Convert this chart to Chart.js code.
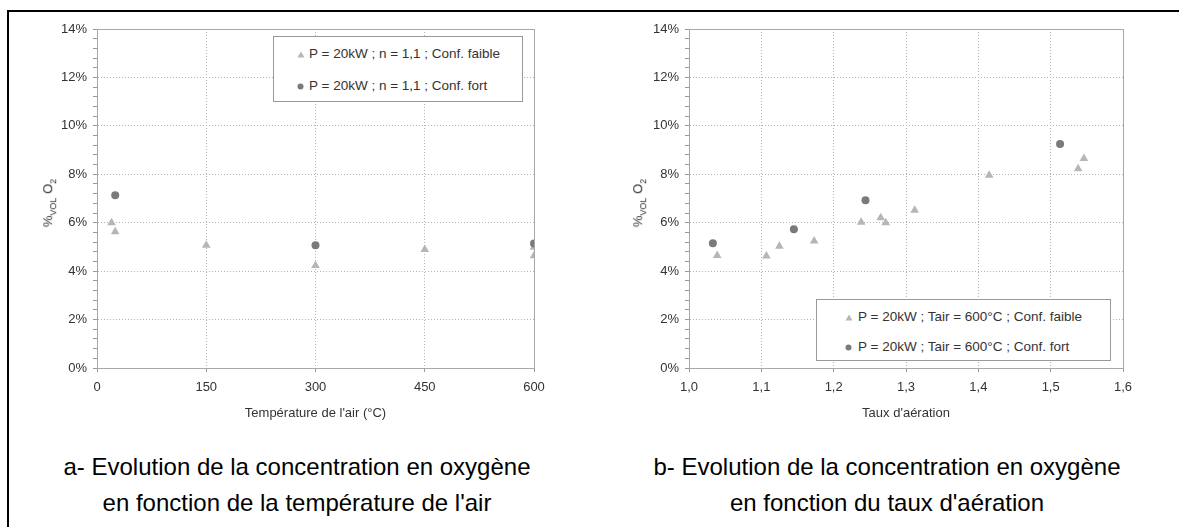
<!DOCTYPE html>
<html>
<head>
<meta charset="utf-8">
<script src="https://cdn.jsdelivr.net/npm/chart.js@4.4.0/dist/chart.umd.min.js"></script>
<style>
  body { margin: 0; background: #fff; font-family: "Liberation Sans", Arial, sans-serif; }
  #page { position: relative; width: 1179px; height: 527px; overflow: hidden; }
  .frame { position: absolute; left: 7px; top: 10px; width: 1300px; height: 600px; border-top: 2px solid #000; border-left: 2px solid #000; }
  canvas { position: absolute; }
  .ytitle { position: absolute; font-size: 13px; color: #333; white-space: nowrap; transform: translate(-50%, -50%) rotate(-90deg); }
  .ytitle sub { font-size: 9px; }
  .legend { position: absolute; background: #fff; border: 1px solid #999; box-sizing: border-box; }
  .legend .row { position: absolute; font-size: 13.5px; color: #333; white-space: nowrap; line-height: 16px; }
  .legend svg { position: absolute; }
  .caption { position: absolute; width: 560px; text-align: center; font-size: 24px; line-height: 36px; color: #000; }
</style>
</head>
<body>
<div id="page">
  <div class="frame"></div>
  <canvas id="chartTemp" width="520" height="408" style="left:40px;top:15px"></canvas>
  <canvas id="chartAir" width="520" height="408" style="left:630px;top:15px"></canvas>
  <div class="ytitle" style="left:49px;top:203px">%<sub>VOL</sub> O<sub>2</sub></div>
  <div class="ytitle" style="left:639px;top:203px">%<sub>VOL</sub> O<sub>2</sub></div>
  <div id="legendTemp" class="legend" style="left:273px;top:36px;width:250px;height:66px"></div>
  <div id="legendAir" class="legend" style="left:816px;top:299px;width:295px;height:62px"></div>
  <div class="caption" style="left:17px;top:449px">a- Evolution de la concentration en oxygène<br>en fonction de la température de l'air</div>
  <div class="caption" style="left:607px;top:449px">b- Evolution de la concentration en oxygène<br>en fonction du taux d'aération</div>
</div>
<script>
// chart a: temperature de l'air
const tempFaibleX = [20, 25, 150, 300, 450, 600, 600];
const tempFaibleY = [6.0, 5.63, 5.07, 4.23, 4.89, 4.99, 4.64];
const tempFortX = [25, 300, 600];
const tempFortY = [7.13, 5.07, 5.14];

// chart b: taux d'aeration
const airFaibleX = [1.039, 1.107, 1.125, 1.173, 1.238, 1.265, 1.272, 1.312, 1.415, 1.538, 1.546];
const airFaibleY = [4.65, 4.63, 5.03, 5.25, 6.02, 6.21, 6.0, 6.51, 7.96, 8.23, 8.65];
const airFortX = [1.033, 1.145, 1.244, 1.513];
const airFortY = [5.15, 5.73, 6.93, 9.25];

const labelsTemp = ['P = 20kW ; n = 1,1 ; Conf. faible', 'P = 20kW ; n = 1,1 ; Conf. fort'];
const labelsAir = ['P = 20kW ; Tair = 600°C ; Conf. faible', 'P = 20kW ; Tair = 600°C ; Conf. fort'];

const faibleColor = '#b6b6b6';
const fortColor = '#7a7a7a';
const textColor = '#333';
const fontFamily = '"Liberation Sans", Arial, sans-serif';

function toPoints(xs, ys) {
    return xs.map((x, i) => ({ x: x, y: ys[i] }));
}

function isMajor(v) {
    return Math.abs(v / 2 - Math.round(v / 2)) < 1e-6;
}

// solid frame round the plot area
const plotFrame = {
    id: 'plotFrame',
    afterDraw(chart) {
        const a = chart.chartArea;
        const ctx = chart.ctx;
        ctx.save();
        ctx.strokeStyle = '#a8a8a8';
        ctx.lineWidth = 1;
        ctx.strokeRect(Math.round(a.left) + 0.5, Math.round(a.top) + 0.5, Math.round(a.right - a.left), Math.round(a.bottom - a.top));
        ctx.restore();
    }
};

function makeChart(id, faible, fort, labels, xOpts, yWidth, padRight) {
    const ctx = document.getElementById(id).getContext('2d');
    return new Chart(ctx, {
        type: 'scatter',
        data: {
            datasets: [
                { label: labels[0], data: faible, pointStyle: 'triangle', pointRadius: 5, backgroundColor: faibleColor, borderWidth: 0, order: 2 },
                { label: labels[1], data: fort, pointStyle: 'circle', pointRadius: 4, backgroundColor: fortColor, borderWidth: 0, order: 1 }
            ]
        },
        options: {
            responsive: false,
            animation: false,
            devicePixelRatio: 1,
            layout: { padding: { left: 0, top: 14, right: padRight, bottom: 0 } },
            plugins: { legend: { display: false }, tooltip: { enabled: false } },
            scales: {
                x: {
                    type: 'linear',
                    min: xOpts.min,
                    max: xOpts.max,
                    afterFit: s => { s.height = 55; },
                    ticks: {
                        stepSize: xOpts.step,
                        color: textColor,
                        padding: 8,
                        font: { family: fontFamily, size: 13 },
                        callback: xOpts.format
                    },
                    grid: { color: '#b4b4b4', tickColor: '#999', tickLength: 4 },
                    border: { color: '#999', dash: [1, 2] },
                    title: { display: true, text: xOpts.title, color: textColor, font: { family: fontFamily, size: 13 }, padding: { top: 2, bottom: 2 } }
                },
                y: {
                    min: 0,
                    max: 14,
                    afterFit: s => { s.width = yWidth; },
                    ticks: {
                        stepSize: 0.4,
                        autoSkip: false,
                        color: textColor,
                        padding: 6,
                        font: { family: fontFamily, size: 13 },
                        callback: v => isMajor(v) ? Math.round(v) + '%' : ''
                    },
                    grid: {
                        color: c => isMajor(c.tick.value) ? '#b4b4b4' : 'rgba(0,0,0,0)',
                        tickColor: '#999',
                        tickLength: 4
                    },
                    border: { color: '#999', dash: [1, 2] }
                }
            }
        },
        plugins: [plotFrame]
    });
}

makeChart('chartTemp', toPoints(tempFaibleX, tempFaibleY), toPoints(tempFortX, tempFortY), labelsTemp,
    { min: 0, max: 600, step: 150, title: "Température de l'air (°C)", format: v => v },
    57, 26);

makeChart('chartAir', toPoints(airFaibleX, airFaibleY), toPoints(airFortX, airFortY), labelsAir,
    { min: 1.0, max: 1.6, step: 0.1, title: "Taux d'aération", format: v => v.toFixed(1).replace('.', ',') },
    59, 27);

// html legends placed inside the plot areas
function buildLegend(id, labels, markerX, textX, rowsY) {
    const box = document.getElementById(id);
    const shapes = [
        `<polygon points="4,0.5 7.5,6.5 0.5,6.5" fill="${faibleColor}"/>`,
        `<circle cx="3.5" cy="3.5" r="3" fill="${fortColor}"/>`
    ];
    labels.forEach((label, i) => {
        const svg = document.createElementNS('http://www.w3.org/2000/svg', 'svg');
        svg.setAttribute('width', '8');
        svg.setAttribute('height', '7');
        svg.style.left = (markerX - 4) + 'px';
        svg.style.top = (rowsY[i] - 3.5) + 'px';
        svg.innerHTML = shapes[i];
        box.appendChild(svg);
        const row = document.createElement('div');
        row.className = 'row';
        row.style.left = textX + 'px';
        row.style.top = (rowsY[i] - 8) + 'px';
        row.textContent = label;
        box.appendChild(row);
    });
}

buildLegend('legendTemp', labelsTemp, 27, 35, [17, 49]);
buildLegend('legendAir', labelsAir, 32, 41, [17, 47]);
</script>
</body>
</html>
